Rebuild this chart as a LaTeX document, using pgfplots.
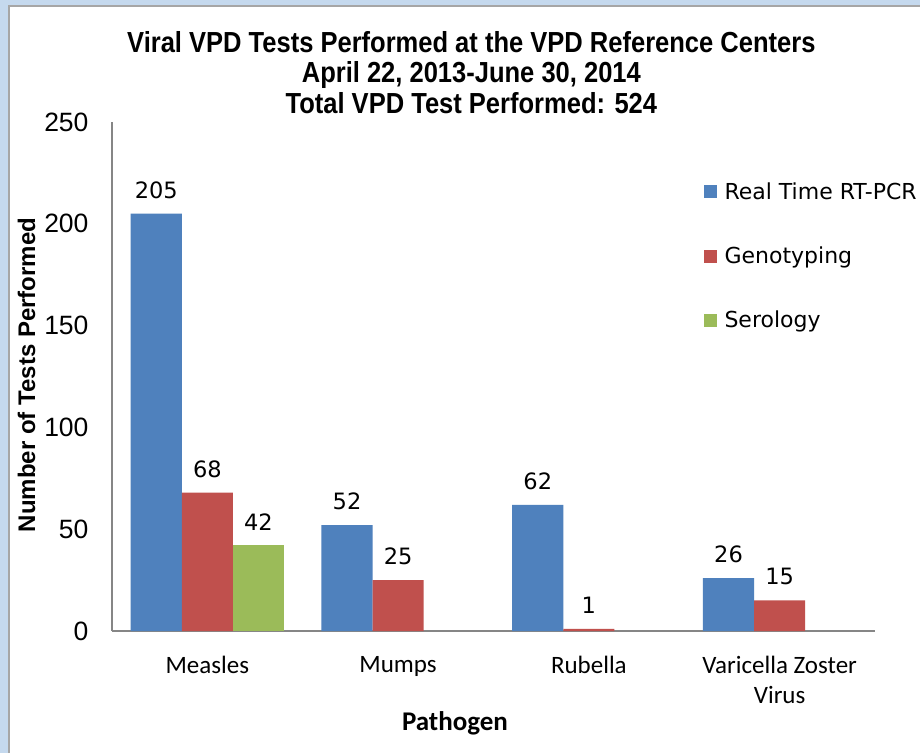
\documentclass[border=0pt]{standalone}
\usepackage{fontspec}
\setmainfont{Liberation Sans}
\newfontfamily\titlefont[FakeStretch=0.88]{Liberation Sans}
\newfontfamily\calfont{Carlito}
\newfontfamily\numfont{DejaVu Sans}
\usepackage{pgfplots}
\pgfplotsset{compat=1.18}

\definecolor{pcrblue}{HTML}{4F81BD}
\definecolor{genored}{HTML}{C0504D}
\definecolor{serogreen}{HTML}{9BBB59}
\definecolor{frameblue}{HTML}{C5D9EE}
\definecolor{axisgray}{HTML}{868686}

\begin{document}
\begin{tikzpicture}
% chart frame
\useasboundingbox (0,0) rectangle (920pt,753pt);
\fill[frameblue] (0,0) rectangle (920pt,753pt);
\fill[white] (9pt,0) rectangle (920pt,747pt);
\draw[gray!70, line width=1.2pt] (9pt,0) -- (9pt,747pt) -- (920pt,747pt);

\begin{axis}[
  at={(112pt,122pt)}, anchor=south west,
  scale only axis,
  width=763pt, height=509pt,
  xmin=-0.5, xmax=3.5,
  ymin=0, ymax=250,
  ytick={0,50,100,150,200,250},
  xtick={0,1,2,3},
  xticklabels={Measles,Mumps,Rubella,{Varicella Zoster\\Virus}},
  axis x line*=bottom, axis y line*=left,
  axis line style={draw=axisgray, line width=1.3pt, -},
  major tick length=0pt,
  /pgf/number format/assume math mode=true,
  yticklabel style={font=\fontsize{26.5}{26.5}\selectfont, xshift=-20pt},
  xticklabel style={font=\calfont\fontsize{25}{30}\selectfont, align=center, anchor=north, yshift=-22pt},
  title={Viral VPD Tests Performed at the VPD Reference Centers\\April 22, 2013-June 30, 2014\\Total VPD Test Performed: 524},
  title style={font=\titlefont\bfseries\fontsize{29}{30.5}\selectfont, align=center, at={(rel axis cs:0.471,1.086)}, anchor=center},
  ylabel={Number of Tests Performed},
  ylabel style={font=\bfseries\fontsize{24}{25}\selectfont, at={(rel axis cs:-0.112,0.503)}, anchor=center},
  xlabel={Pathogen},
  xlabel style={font=\calfont\bfseries\fontsize{27}{27}\selectfont, at={(rel axis cs:0.4495,-0.181)}, anchor=center},
  ybar, bar width=0.268, draw=none,
  nodes near coords,
  every node near coord/.append style={font=\numfont\fontsize{22.5}{22.5}\selectfont, inner sep=0pt, yshift=15pt, black},
  legend style={at={(rel axis cs:0.775,0.885)}, anchor=north west, draw=none, fill=none,
    font=\numfont\fontsize{22}{22}\selectfont, row sep=42pt, inner sep=0pt,
    /tikz/every odd column/.append style={column sep=6pt}},
  legend cell align=left,
  legend image code/.code={\fill[#1] (0pt,-6.5pt) rectangle (13pt,6.5pt);},
]
\addplot[fill=pcrblue, draw=none, bar shift=-0.268] coordinates {(0,205) (1,52) (2,62) (3,26)};
\addlegendentry{Real Time RT-PCR}
\addplot[fill=genored, draw=none, bar shift=0] coordinates {(0,68) (1,25) (2,1) (3,15)};
\addlegendentry{Genotyping}
\addplot[fill=serogreen, draw=none, bar shift=0.268] coordinates {(0,42)};
\addlegendentry{Serology}
\end{axis}
\end{tikzpicture}
\end{document}
